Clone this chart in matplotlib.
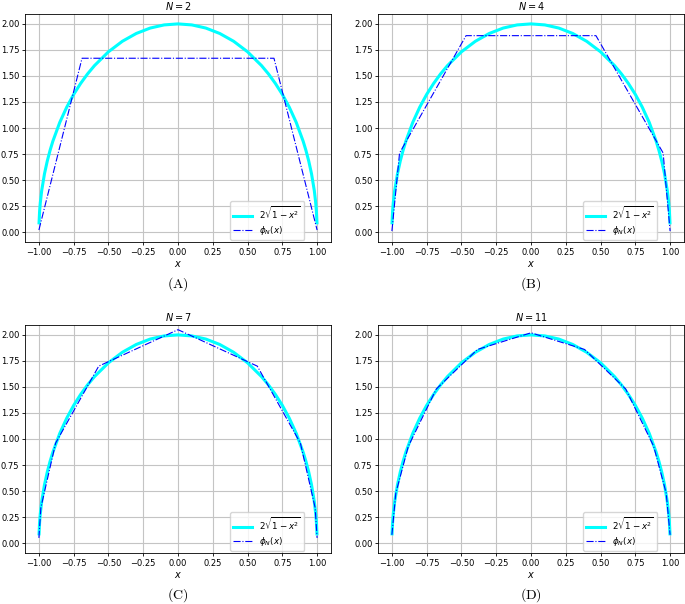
import matplotlib
matplotlib.use("Agg")
import matplotlib.pyplot as plt

# sample points of the cyan curve 2*sqrt(1-x^2)
curve_x = [-0.999, -0.995, -0.99, -0.98, -0.96, -0.94, -0.92, -0.90, -0.85, -0.80,
           -0.75, -0.70, -0.65, -0.60, -0.50, -0.40, -0.30, -0.20, -0.10, 0.0,
           0.10, 0.20, 0.30, 0.40, 0.50, 0.60, 0.65, 0.70, 0.75, 0.80,
           0.85, 0.90, 0.92, 0.94, 0.96, 0.98, 0.99, 0.995, 0.999]
curve_y = [0.089, 0.200, 0.282, 0.398, 0.560, 0.682, 0.784, 0.872, 1.054, 1.200,
           1.323, 1.428, 1.520, 1.600, 1.732, 1.833, 1.908, 1.960, 1.990, 2.000,
           1.990, 1.960, 1.908, 1.833, 1.732, 1.600, 1.520, 1.428, 1.323, 1.200,
           1.054, 0.872, 0.784, 0.682, 0.560, 0.398, 0.282, 0.200, 0.089]

# piecewise linear phi_N for each N
phi2_x = [-1.0, -0.69, 0.69, 1.0]
phi2_y = [0.02, 1.67, 1.67, 0.02]

phi4_x = [-1.0, -0.945, -0.467, 0.467, 0.95, 1.0]
phi4_y = [0.01, 0.76, 1.887, 1.887, 0.76, 0.01]

phi7_x = [-1.0, -0.986, -0.88, -0.57, 0.0, 0.57, 0.88, 0.986, 1.0]
phi7_y = [0.05, 0.34, 0.96, 1.70, 2.05, 1.70, 0.96, 0.34, 0.05]

phi11_x = [-1.0, -0.972, -0.882, -0.681, -0.385, 0.0, 0.385, 0.681, 0.882, 0.972, 1.0]
phi11_y = [0.08, 0.48, 0.93, 1.48, 1.86, 2.02, 1.86, 1.48, 0.93, 0.48, 0.08]

panels = [(2, phi2_x, phi2_y, "(A)"),
          (4, phi4_x, phi4_y, "(B)"),
          (7, phi7_x, phi7_y, "(C)"),
          (11, phi11_x, phi11_y, "(D)")]

xticks = [-1.0, -0.75, -0.5, -0.25, 0.0, 0.25, 0.5, 0.75, 1.0]
yticks = [0.0, 0.25, 0.5, 0.75, 1.0, 1.25, 1.5, 1.75, 2.0]

W, H = 685, 604
fig = plt.figure(figsize=(W / 100, H / 100), dpi=100)

# axes boxes in pixels: left, top, width, height
boxes = [(25, 14, 306, 228), (378, 14, 306, 228),
         (25, 325, 306, 228), (378, 325, 306, 228)]

for (n, px, py, cap), (l, t, w, h) in zip(panels, boxes):
    ax = fig.add_axes([l / W, 1 - (t + h) / H, w / W, h / H])
    ax.plot(curve_x, curve_y, color="cyan", lw=2.2, label=r"$2\sqrt{1-x^2}$")
    ax.plot(px, py, color="blue", lw=0.8, ls="-.", label=r"$\phi_N(x)$")
    ax.set_xticks(xticks)
    ax.set_yticks(yticks)
    ax.set_xlim(-1.1, 1.1)
    ax.set_ylim(-0.095, 2.095)
    ax.tick_params(labelsize=6.0, length=2.5, width=0.6, pad=1.5)
    for s in ax.spines.values():
        s.set_linewidth(0.6)
    ax.grid(True, color="#c4c4c4", lw=0.8)
    ax.set_title(r"$N = %d$" % n, fontsize=7, pad=3)
    ax.set_xlabel(r"$x$", fontsize=7, labelpad=2)
    ax.legend(loc="lower right", bbox_to_anchor=(0.92, 0.0), fontsize=6.3,
              handlelength=2.2, labelspacing=0.25, borderaxespad=0.25,
              borderpad=0.35)
    fig.text((l + w / 2) / W, 1 - (t + h + 42) / H, r"$\mathrm{" + cap + "}$",
             fontsize=10, ha="center", va="center", math_fontfamily="cm")

fig.savefig("out.png", dpi=100)
